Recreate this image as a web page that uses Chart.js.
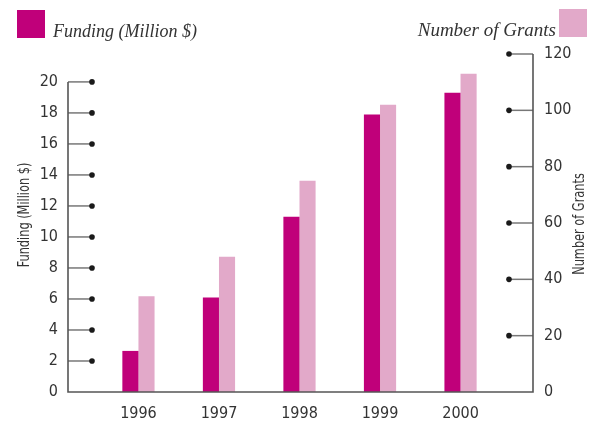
<!DOCTYPE html>
<html>
<head>
<meta charset="utf-8">
<script src="https://cdn.jsdelivr.net/npm/chart.js@4/dist/chart.umd.min.js"></script>
<style>
  body { margin: 0; background: #fff; }
  canvas { display: block; }
</style>
</head>
<body>
<canvas id="myChart" width="595" height="425"></canvas>
<script>
const years = [1996, 1997, 1998, 1999, 2000];
const funding = [2.65, 6.1, 11.3, 17.9, 19.3];
const grants = [34, 48, 75, 102, 113];
const fundingTicks = [0, 2, 4, 6, 8, 10, 12, 14, 16, 18, 20];
const grantTicks = [0, 20, 40, 60, 80, 100, 120];

const darkColor = '#c0007a';
const lightColor = '#e2a9c9';
const sans = "'DejaVu Sans Condensed', 'Liberation Sans', sans-serif";
const serif = "'Liberation Serif', 'DejaVu Serif', serif";

// upright-reading title drawn along the y axis, squeezed a bit like a condensed face
function sideTitle(ctx, text, x, y) {
  ctx.save();
  ctx.translate(x, y);
  ctx.rotate(-Math.PI / 2);
  ctx.scale(0.84, 1);
  ctx.fillText(text, 0, 0);
  ctx.restore();
}

// axis lines, tick stems with dots, titles and the two legend keys
const decor = {
  id: 'decor',
  afterDatasetsDraw(chart) {
    const ctx = chart.ctx;
    const area = chart.chartArea;
    const yL = chart.scales.y, yR = chart.scales.y2;
    const stem = 24;
    ctx.save();

    // tick stems
    ctx.lineWidth = 1.5;
    ctx.strokeStyle = '#777';
    ctx.fillStyle = '#1a1a1a';
    fundingTicks.slice(1).forEach(v => {
      const py = yL.getPixelForValue(v);
      ctx.beginPath(); ctx.moveTo(area.left, py); ctx.lineTo(area.left + stem, py); ctx.stroke();
      ctx.beginPath(); ctx.arc(area.left + stem, py, 2.8, 0, Math.PI * 2); ctx.fill();
    });
    grantTicks.slice(1).forEach(v => {
      const py = yR.getPixelForValue(v);
      ctx.beginPath(); ctx.moveTo(area.right - stem, py); ctx.lineTo(area.right, py); ctx.stroke();
      ctx.beginPath(); ctx.arc(area.right - stem, py, 2.8, 0, Math.PI * 2); ctx.fill();
    });

    // axis lines
    ctx.strokeStyle = '#555';
    ctx.lineWidth = 1.6;
    const top20 = yL.getPixelForValue(fundingTicks[fundingTicks.length - 1]);
    const top120 = yR.getPixelForValue(grantTicks[grantTicks.length - 1]);
    ctx.beginPath();
    ctx.moveTo(area.left, top20); ctx.lineTo(area.left, area.bottom);
    ctx.lineTo(area.right, area.bottom); ctx.lineTo(area.right, top120);
    ctx.stroke();

    // axis titles, both reading upwards
    ctx.fillStyle = '#333';
    ctx.font = '15px ' + sans;
    ctx.textAlign = 'center';
    ctx.textBaseline = 'middle';
    sideTitle(ctx, chart.data.datasets[0].label, 25, 215);
    sideTitle(ctx, chart.data.datasets[1].label, 580, 224);

    // legend keys
    ctx.fillStyle = darkColor;
    ctx.fillRect(17, 10, 28, 28);
    ctx.fillStyle = lightColor;
    ctx.fillRect(559, 9, 28, 28);
    ctx.fillStyle = '#333';
    ctx.textBaseline = 'alphabetic';
    ctx.font = 'italic 18px ' + serif;
    ctx.textAlign = 'left';
    ctx.fillText(chart.data.datasets[0].label, 53, 37);
    ctx.font = 'italic 19px ' + serif;
    ctx.textAlign = 'right';
    ctx.fillText(chart.data.datasets[1].label, 556, 36);
    ctx.restore();
  }
};

const data = {
  datasets: [
    {
      label: 'Funding (Million $)',
      backgroundColor: darkColor,
      data: years.map((x, i) => ({ x: x, y: funding[i] })),
      yAxisID: 'y'
    },
    {
      label: 'Number of Grants',
      backgroundColor: lightColor,
      data: years.map((x, i) => ({ x: x, y: grants[i] })),
      yAxisID: 'y2'
    }
  ]
};

const tickFont = { family: sans, size: 16 };
const noGrid = { display: false, drawTicks: false };

const config = {
  type: 'bar',
  data: data,
  options: {
    responsive: false,
    animation: false,
    devicePixelRatio: 1,
    categoryPercentage: 0.4,
    barPercentage: 1.0,
    layout: { padding: { top: 54, left: 0, right: 0, bottom: 0 } },
    plugins: { legend: { display: false }, tooltip: { enabled: false } },
    scales: {
      x: {
        type: 'linear',
        offset: false,
        min: 1995.125,
        max: 2000.9,
        grid: noGrid,
        border: { display: false },
        ticks: { font: tickFont, color: '#333', padding: 12, callback: v => String(v) },
        afterBuildTicks: s => { s.ticks = years.map(v => ({ value: v })); },
        afterFit: s => { s.height = 33; }
      },
      y: {
        position: 'left',
        min: 0,
        max: 21.8,
        grid: noGrid,
        border: { display: false },
        ticks: { font: tickFont, color: '#333', padding: 10 },
        afterBuildTicks: s => { s.ticks = fundingTicks.map(v => ({ value: v })); },
        afterFit: s => { s.width = 68; }
      },
      y2: {
        position: 'right',
        min: 0,
        max: 120,
        grid: noGrid,
        border: { display: false },
        ticks: { font: tickFont, color: '#333', padding: 11 },
        afterBuildTicks: s => { s.ticks = grantTicks.map(v => ({ value: v })); },
        afterFit: s => { s.width = 62; }
      }
    }
  },
  plugins: [decor]
};

const myChart = new Chart(document.getElementById('myChart'), config);
</script>
</body>
</html>
